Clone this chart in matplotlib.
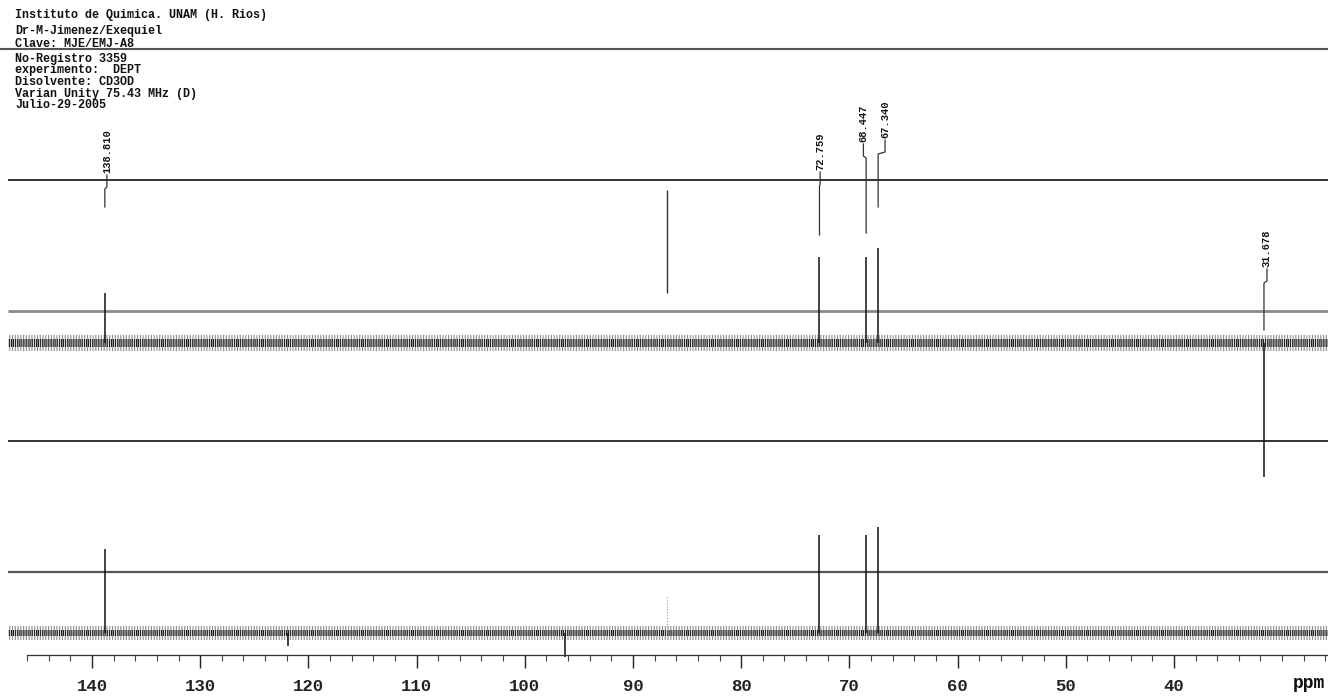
import matplotlib
matplotlib.use("Agg")
import matplotlib.pyplot as plt

# header printed on the spectrum
header = [
    "Instituto de Quimica. UNAM (H. Rios)",
    "Dr-M-Jimenez/Exequiel",
    "Clave: MJE/EMJ-A8",
    "No-Registro 3359",
    "experimento:  DEPT",
    "Disolvente: CD3OD",
    "Varian Unity 75.43 MHz (D)",
    "Julio-29-2005",
]
header_baselines = [18, 34, 47, 62, 73, 85, 97, 108]

# ppm range shown
ppm_left = 148.5
ppm_right = 25.76

# baselines of the two traces (rows from top) and noise half width
upper_base = 343
lower_base = 633
upper_noise = 8
lower_noise = 7

# upper trace peaks (ppm, height above baseline)
upper_ppm = [138.810, 72.759, 68.447, 67.340, 31.678]
upper_height = [50, 86, 86, 95, -134]

# lower trace peaks
lower_ppm = [138.810, 72.759, 68.447, 67.340, 96.3, 121.9]
lower_height = [84, 98, 98, 106, -24, -13]

# peak labels
labels = ["138.810", "72.759", "68.447", "67.340", "31.678"]
label_ppm = [138.62, 72.70, 68.70, 66.70, 31.40]
label_bottom = [173, 170, 142, 138, 267]
leader_end = [207, 235, 233, 207, 330]

# stray line between traces
stray_ppm = 86.86
stray_rows = (190, 293)

# reference lines across the plot
hlines_rows = [180, 311, 441, 572]
hlines_colors = ["#111111", "#8a8a8a", "#111111", "#555555"]
hlines_widths = [1.2, 2.0, 1.2, 1.6]

axis_row = 655
tick_labels = [140, 130, 120, 110, 100, 90, 80, 70, 60, 50, 40]
minor_ticks = list(range(26, 148, 2))

mono = "Liberation Mono"
plt.rcParams["hatch.linewidth"] = 0.8

fig = plt.figure(figsize=(13.28, 6.98), dpi=100)
ax = fig.add_axes([0, 0, 1, 1])
ax.set_xlim(ppm_left, ppm_right)
ax.set_ylim(698, 0)

# header text and rule
for txt, row in zip(header, header_baselines):
    ax.text(147.1, row, txt, fontfamily=mono, fontweight="bold", fontsize=8.5,
            va="baseline", ha="left", color="#111111")
ax.axhline(49, color="#555555", lw=1.5)

for row, c, w in zip(hlines_rows, hlines_colors, hlines_widths):
    ax.hlines(row, 147.77, ppm_right, color=c, lw=w)

# noise bands: dense core plus lighter hatched envelope
for base, half in [(upper_base, upper_noise), (lower_base, lower_noise)]:
    ax.fill_between([147.77, ppm_right], base - half, base + half,
                    facecolor="none", edgecolor="#8c8c8c", hatch="||||||", lw=0)
    ax.fill_between([147.77, ppm_right], base - half * 0.45, base + half * 0.45,
                    facecolor="none", edgecolor="#1e1e1e", hatch="||||||||", lw=0)

# peaks
for p, h in zip(upper_ppm, upper_height):
    ax.vlines(p, upper_base, upper_base - h, color="#111111", lw=1.1)
for p, h in zip(lower_ppm, lower_height):
    ax.vlines(p, lower_base, lower_base - h, color="#111111", lw=1.1)

ax.vlines(stray_ppm, stray_rows[0], stray_rows[1], color="#333333", lw=1.0)
ax.vlines(stray_ppm, lower_base - 36, lower_base, color="#999999", lw=0.8, linestyles=":")

# labels with leader lines
for txt, lp, pp, b, e in zip(labels, label_ppm, upper_ppm, label_bottom, leader_end):
    ax.text(lp, b, txt, rotation=90, fontfamily=mono, fontweight="bold",
            fontsize=7.5, ha="center", va="bottom", color="#111111")
    ax.plot([lp, lp, pp, pp], [b + 2, b + 14, b + 16, e], color="#333333", lw=0.9)

# ppm axis
for s in ["left", "right", "top"]:
    ax.spines[s].set_visible(False)
ax.spines["bottom"].set_position(("data", axis_row))
ax.spines["bottom"].set_bounds(146.0, ppm_right)
ax.spines["bottom"].set_color("#333333")
ax.spines["bottom"].set_linewidth(0.9)
ax.set_xticks(tick_labels)
ax.set_xticklabels([str(t) for t in tick_labels], fontfamily=mono,
                   fontweight="bold", fontsize=12.5)
ax.set_xticks(minor_ticks, minor=True)
ax.tick_params(axis="x", which="major", direction="out", length=9, width=1.0,
               pad=8, colors="#222222")
ax.tick_params(axis="x", which="minor", direction="out", length=4, width=0.8,
               colors="#444444")
ax.set_yticks([])
ax.text(27.5, 683, "ppm", fontfamily=mono, fontweight="bold", fontsize=13,
        ha="center", va="center", color="#111111")

fig.savefig("out.png", dpi=100)
